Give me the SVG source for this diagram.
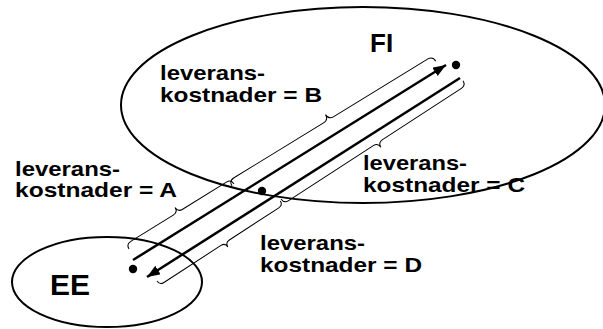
<svg xmlns="http://www.w3.org/2000/svg" width="603" height="329" viewBox="0 0 603 329">
  <style>
    .region { fill: none; stroke: #000; stroke-width: 2; }
    .dot { fill: #000; }
    .arrow { fill: none; stroke: #000; stroke-width: 2.5; marker-end: url(#head); }
    .brace { fill: none; stroke: #000; stroke-width: 1; }
    .lbl { font-family: "Liberation Sans", Arial, sans-serif; font-weight: bold; font-size: 21px; fill: #000; }
    .big { font-family: "Liberation Sans", Arial, sans-serif; font-weight: bold; fill: #000; }
  </style>
  <defs>
    <marker id="head" markerUnits="userSpaceOnUse" markerWidth="15" markerHeight="11" refX="13" refY="5" orient="auto">
      <path d="M0,0 L13,5 L0,10 Z" fill="#000"/>
    </marker>
  </defs>
  <rect width="603" height="329" fill="#fff"/>

  <g id="node-FI">
    <ellipse class="region" cx="363" cy="105" rx="242" ry="98"/>
    <text class="big" x="370" y="52" font-size="26">FI</text>
    <circle class="dot" cx="456" cy="65" r="4.2"/>
  </g>

  <g id="node-EE">
    <ellipse class="region" cx="107" cy="282" rx="95" ry="45"/>
    <text class="big" x="50" y="295" font-size="29" textLength="40" lengthAdjust="spacingAndGlyphs">EE</text>
    <circle class="dot" cx="133" cy="269" r="4.2"/>
  </g>

  <g id="node-mid">
    <circle class="dot" cx="262" cy="191" r="4.2"/>
  </g>

  <g id="connectors">
    <line class="arrow" x1="133" y1="260" x2="446" y2="65"/>
    <line class="arrow" x1="460" y1="78" x2="147" y2="277"/>
  </g>

  <g id="braces">
    <path class="brace" transform="translate(129,249) rotate(-31.8)" d="M0,0 Q0,-5.5 5.5,-5.5 L55.5,-5.5 Q61,-5.5 61,-11 Q61,-5.5 66.5,-5.5 L118,-5.5 Q123.5,-5.5 123.5,0"/>
    <path class="brace" transform="translate(232,186) rotate(-31.5)" d="M0,0 Q0,-6 6,-6 L111,-6 Q117,-6 117,-12 Q117,-6 123,-6 L233,-6 Q239,-6 239,0"/>
    <path class="brace" transform="translate(281,199) rotate(-33)" d="M0,0 Q0,5.5 5.5,5.5 L106.5,5.5 Q112,5.5 112,11 Q112,5.5 117.5,5.5 L211.5,5.5 Q217,5.5 217,0"/>
    <path class="brace" transform="translate(157,281) rotate(-33)" d="M0,0 Q0,5 5,5 L73,5 Q78,5 78,10 Q78,5 83,5 L142,5 Q147,5 147,0"/>
  </g>

  <g id="label-A">
    <text class="lbl" x="15" y="176" textLength="105" lengthAdjust="spacingAndGlyphs">leverans-</text>
    <text class="lbl" x="15" y="197" textLength="162" lengthAdjust="spacingAndGlyphs">kostnader = A</text>
  </g>
  <g id="label-B">
    <text class="lbl" x="160" y="80" textLength="105" lengthAdjust="spacingAndGlyphs">leverans-</text>
    <text class="lbl" x="160" y="102" textLength="162" lengthAdjust="spacingAndGlyphs">kostnader = B</text>
  </g>
  <g id="label-C">
    <text class="lbl" x="363" y="170" textLength="104" lengthAdjust="spacingAndGlyphs">leverans-</text>
    <text class="lbl" x="363" y="192" textLength="162" lengthAdjust="spacingAndGlyphs">kostnader = C</text>
  </g>
  <g id="label-D">
    <text class="lbl" x="260" y="250" textLength="105" lengthAdjust="spacingAndGlyphs">leverans-</text>
    <text class="lbl" x="260" y="272" textLength="162" lengthAdjust="spacingAndGlyphs">kostnader = D</text>
  </g>
</svg>
